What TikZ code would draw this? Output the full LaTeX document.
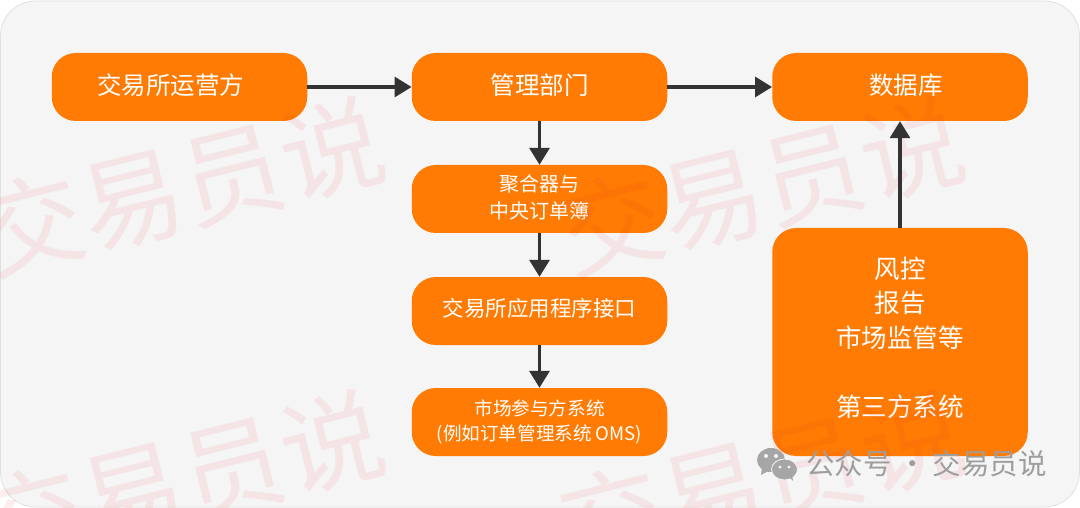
\documentclass[tikz,border=0pt]{standalone}
\usepackage{fontspec}
\usetikzlibrary{arrows.meta}
\setmainfont{Noto Sans CJK SC}
\definecolor{colOrange}{RGB}{255,123,3}
\definecolor{colPanel}{RGB}{245,245,245}
\definecolor{colEdge}{RGB}{51,51,51}
\definecolor{colMark}{RGB}{240,40,50}
\definecolor{colLogo}{RGB}{166,166,166}
\tikzstyle{stage}=[fill=colOrange, rounded corners=24pt, inner sep=0pt, minimum width=255.5pt, minimum height=68pt, text=white, align=center]
\tikzstyle{flow}=[line width=3.2pt, colEdge, -{Triangle[length=17pt,width=20pt]}]
\tikzstyle{stamp}=[rotate=14, text=colMark, text opacity=0.08, inner sep=0pt, font=\fontsize{103}{103}\selectfont]

\begin{document}
\begin{tikzpicture}[x=1pt,y=-1pt]
	\useasboundingbox (0,0) rectangle (1080,508);
	\fill[white] (0,0) rectangle (1080,508);
	\draw[fill=colPanel, draw=black!12, line width=0.8pt, rounded corners=35pt] (0.5,1) rectangle (1079.5,507);

	% Boxes
	\node[stage, text depth=5pt, font=\fontsize{24.5}{30}\selectfont] (operator) at (179.5,87) {交易所运营方\hspace*{18pt}};
	\node[stage, text depth=5pt, font=\fontsize{24.5}{30}\selectfont] (dept) at (539.5,87) {管理部门};
	\node[stage, text depth=5pt, font=\fontsize{24.5}{30}\selectfont] (db) at (900,87) {\hspace*{12pt}数据库};
	\node[stage, text depth=4pt, font=\fontsize{20}{27}\selectfont] (book) at (539.5,199) {聚合器与\\中央订单簿};
	\node[stage, text depth=8pt, font=\fontsize{21.5}{27}\selectfont] (api) at (539.5,311) {交易所应用程序接口};
	\node[stage, font=\fontsize{18.6}{25}\selectfont] (oms) at (539.5,422) {市场参与方系统\\(例如订单管理系统 OMS)};
	\node[stage, minimum height=228pt, text depth=11pt, font=\fontsize{25.5}{34.5}\selectfont] (risk) at (900,342) {风控\\报告\\市场监管等\\[34.5pt]第三方系统};

	% Watermark
	\foreach \wx/\wy in {182/186, 762/186, 182/479, 762/479}
		\node[stamp] (mark\wx\wy) at (\wx,\wy) {交易员说};

	% Arrows
	\draw[flow] (operator)--(dept);
	\draw[flow] (dept)--(db);
	\draw[flow] (dept)--(book);
	\draw[flow] (book)--(api);
	\draw[flow] (api)--(oms);
	\draw[flow] (risk)--(db);

	% Account tag
	\fill[colLogo] (771,460) ellipse (14pt and 12pt);
	\fill[colLogo] (762,468)--(761,475)--(770,470)--cycle;
	\fill[colLogo, draw=colPanel, line width=0.8pt] (784.5,469.5) ellipse (13pt and 10.5pt);
	\fill[colLogo] (789,477)--(793,481)--(792,474)--cycle;
	\fill[colPanel] (766,456) circle (2pt) (776,456) circle (2pt) (780,467) circle (1.6pt) (789,467) circle (1.6pt);
	\node[text=black!38, inner sep=0pt, anchor=west, font=\fontsize{28.5}{30}\selectfont] (tag) at (806,464) {公众号 · 交易员说};
\end{tikzpicture}
\end{document}
